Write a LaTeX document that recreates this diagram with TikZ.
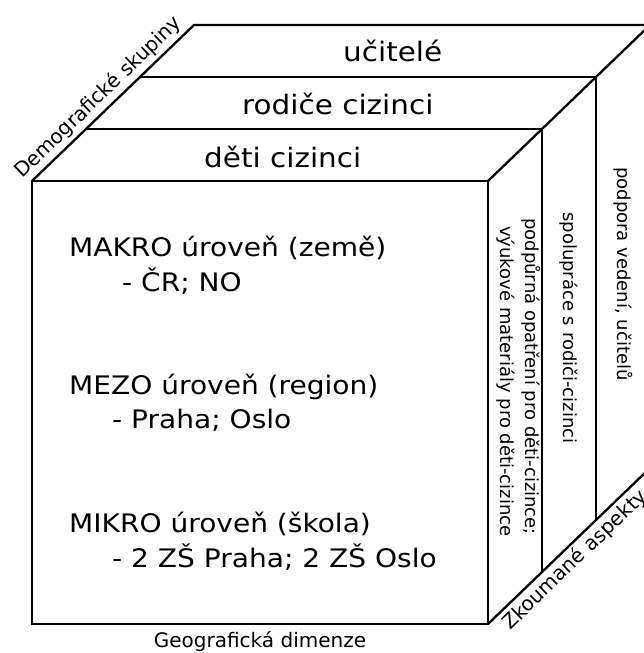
\documentclass[tikz,border=0pt]{standalone}
\usepackage{fontspec}
\setmainfont{DejaVu Sans}
\newfontfamily\widefont{DejaVu Sans}[FakeStretch=1.1]
\begin{document}
\begin{tikzpicture}[x=1pt,y=-1pt,
  edge/.style={line width=2.3pt,line join=miter},
  fronttxt/.style={anchor=base west,inner sep=0pt,font=\widefont\fontsize{25.5}{30}\selectfont},
  toptxt/.style={anchor=base west,inner sep=0pt,font=\widefont\fontsize{26.8}{32}\selectfont},
  sidetxt/.style={anchor=base west,inner sep=0pt,rotate=-90,font=\fontsize{18}{22}\selectfont},
  axislbl/.style={inner sep=0pt,font=\fontsize{20}{24}\selectfont}]
\useasboundingbox (0,0) rectangle (643,653);
% corners
\coordinate (F0) at (32,181);  \coordinate (F1) at (488,181);
\coordinate (F2) at (488,624); \coordinate (F3) at (32,624);
\coordinate (L1) at (86,129);  \coordinate (R1) at (542,129);
\coordinate (L2) at (140,77);  \coordinate (R2) at (596,77);
\coordinate (L3) at (194,25);  \coordinate (R3) at (650,25);
\coordinate (B1) at (542,572); \coordinate (B2) at (596,520);
\coordinate (B3) at (650,468);
% front face
\draw[edge] (F0) rectangle (F2);
% top face layers
\draw[edge] (F0) -- (L3) -- (R3);
\draw[edge] (L1) -- (R1);
\draw[edge] (L2) -- (R2);
% right face
\draw[edge] (F1) -- (R3);
\draw[edge] (F2) -- (B3);
\draw[edge] (R1) -- (B1);
\draw[edge] (R2) -- (B2);
% top labels
\node[toptxt] (t3) at (343,61) {učitelé};
\node[toptxt] (t2) at (242,114) {rodiče cizinci};
\node[toptxt] (t1) at (204,167) {děti cizinci};
% front labels
\node[fronttxt] (m1) at (69,256) {MAKRO úroveň (země)};
\node[fronttxt] (m2) at (122,291) {- ČR; NO};
\node[fronttxt] (z1) at (69,394) {MEZO úroveň (region)};
\node[fronttxt] (z2) at (112,428) {- Praha; Oslo};
\node[fronttxt] (k1) at (69,532) {MIKRO úroveň (škola)};
\node[fronttxt] (k2) at (112,567) {- 2 ZŠ Praha; 2 ZŠ Oslo};
% side labels
\node[sidetxt] (s3) at (617,167) {podpora vedení, učitelů};
\node[sidetxt] (s2) at (563,212) {spolupráce s rodiči-cizinci};
\node[sidetxt] (s1a) at (525,218) {podpůrná opatření pro děti-cizince;};
\node[sidetxt] (s1b) at (500,226) {výukové materiály pro děti-cizince};
% axis labels
\path (F0) -- (L3) node[axislbl,pos=0.47,sloped,above=4pt] (ad) {Demografické skupiny};
\path (F2) -- (B3) node[axislbl,pos=0.05,sloped,below=4pt,anchor=north west] (az) {Zkoumané aspekty};
\node[axislbl,anchor=base] (ag) at (260,647) {Geografická dimenze};
\end{tikzpicture}
\end{document}
